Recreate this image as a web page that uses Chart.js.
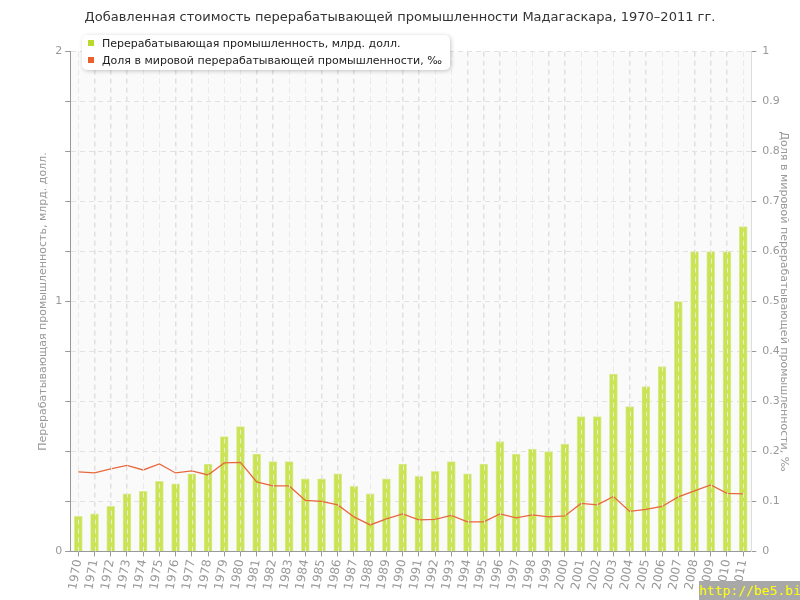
<!DOCTYPE html>
<html>
<head>
<meta charset="utf-8">
<script src="https://cdn.jsdelivr.net/npm/chart.js@4/dist/chart.umd.min.js"></script>
<style>
  body { margin: 0; background: #fff; }
  #wrap { position: relative; width: 800px; height: 600px; }
  #legend {
    position: absolute; left: 82px; top: 35px;
    background: #fff; border-radius: 5px;
    box-shadow: 1px 1px 4px rgba(0,0,0,0.22);
    padding: 0 8px 1px 6px;
    font: 11px "DejaVu Sans", sans-serif; color: #222;
  }
  #legend div { line-height: 17px; white-space: nowrap; }
  #legend span { display: inline-block; width: 6px; height: 6px; margin-right: 8px; vertical-align: 1px; }
  #wm {
    position: absolute; right: 0; bottom: 0; width: 101px; height: 19px;
    background: #a8a8a8; color: #ffff00;
    font: 13px "DejaVu Sans Mono", monospace; line-height: 19px; text-align: right;
  }
</style>
</head>
<body>
<div id="wrap">
  <canvas id="c" width="800" height="600"></canvas>
  <div id="legend">
    <div><span style="background:#b9d92b"></span>Перерабатывающая промышленность, млрд. долл.</div>
    <div><span style="background:#e8602c"></span>Доля в мировой перерабатывающей промышленности, ‰</div>
  </div>
  <div id="wm">http://be5.biz/</div>
</div>
<script>
const years = ['1970','1971','1972','1973','1974','1975','1976','1977','1978','1979',
  '1980','1981','1982','1983','1984','1985','1986','1987','1988','1989',
  '1990','1991','1992','1993','1994','1995','1996','1997','1998','1999',
  '2000','2001','2002','2003','2004','2005','2006','2007','2008','2009','2010','2011'];

// value added, billion USD
const valueAdded = [0.14, 0.15, 0.18, 0.23, 0.24, 0.28, 0.27, 0.31, 0.35, 0.46,
  0.50, 0.39, 0.36, 0.36, 0.29, 0.29, 0.31, 0.26, 0.23, 0.29,
  0.35, 0.30, 0.32, 0.36, 0.31, 0.35, 0.44, 0.39, 0.41, 0.40,
  0.43, 0.54, 0.54, 0.71, 0.58, 0.66, 0.74, 1.00, 1.20, 1.20, 1.20, 1.30];

// share of world manufacturing, per mille
const worldShare = [0.159, 0.157, 0.165, 0.172, 0.163, 0.175, 0.157, 0.161, 0.153, 0.177,
  0.178, 0.139, 0.131, 0.131, 0.102, 0.100, 0.093, 0.069, 0.053, 0.065,
  0.075, 0.063, 0.064, 0.072, 0.059, 0.059, 0.075, 0.067, 0.073, 0.069,
  0.071, 0.096, 0.093, 0.110, 0.080, 0.084, 0.090, 0.109, 0.121, 0.133, 0.116, 0.115];

const leftTicks = [0, 1, 2];
const rightTicks = ['0','0.1','0.2','0.3','0.4','0.5','0.6','0.7','0.8','0.9','1'];

const font = { family: 'DejaVu Sans', size: 11 };
const gray = '#999';

// light plot background
const plotBg = {
  id: 'plotBg',
  beforeDraw(chart) {
    const a = chart.chartArea, ctx = chart.ctx;
    ctx.save();
    ctx.fillStyle = '#fafafa';
    ctx.fillRect(a.left, a.top, a.right - a.left, a.bottom - a.top);
    ctx.restore();
  }
};

// dashed category lines drawn over the bars, as in the original
const overGrid = {
  id: 'overGrid',
  afterDatasetsDraw(chart) {
    const x = chart.scales.x, a = chart.chartArea, ctx = chart.ctx;
    ctx.save();
    ctx.strokeStyle = 'rgba(235,235,235,0.9)';
    ctx.lineWidth = 1;
    ctx.setLineDash([5, 4]);
    years.forEach((_, i) => {
      const px = Math.round(x.getPixelForTick(i)) + 0.5;
      ctx.beginPath();
      ctx.moveTo(px, a.top);
      ctx.lineTo(px, a.bottom);
      ctx.stroke();
    });
    ctx.restore();
  }
};

new Chart(document.getElementById('c'), {
  data: {
    labels: years,
    datasets: [
      {
        type: 'line',
        label: 'Доля в мировой перерабатывающей промышленности, ‰',
        data: worldShare,
        yAxisID: 'y2',
        borderColor: '#e8683e',
        borderWidth: 1.3,
        pointRadius: 0,
        tension: 0,
        order: 0
      },
      {
        type: 'bar',
        label: 'Перерабатывающая промышленность, млрд. долл.',
        data: valueAdded,
        yAxisID: 'y',
        backgroundColor: 'rgba(195,224,60,0.88)',
        borderColor: '#dcec98',
        borderWidth: 1,
        barThickness: 8,
        order: 1
      }
    ]
  },
  options: {
    responsive: false,
    animation: false,
    layout: { padding: { left: 0, right: 0, bottom: 7, top: 0 } },
    plugins: {
      legend: { display: false },
      tooltip: { enabled: false },
      title: {
        display: true,
        text: 'Добавленная стоимость перерабатывающей промышленности Мадагаскара, 1970–2011 гг.',
        color: '#333',
        font: { family: 'DejaVu Sans', size: 13, weight: 'normal' },
        padding: { top: 10, bottom: 26 }
      }
    },
    scales: {
      x: {
        offset: true,
        grid: { display: true, offset: false, color: '#e0e0e0', drawTicks: true, tickLength: 5, tickColor: '#999' },
        border: { color: '#999', width: 1, dash: [5, 4] },
        ticks: { color: gray, font: { family: 'DejaVu Sans', size: 12 }, minRotation: 80, maxRotation: 80, padding: 2, autoSkip: false }
      },
      y: {
        position: 'left',
        min: 0, max: 2,
        afterBuildTicks(axis) {
          const t = [];
          for (let i = 0; i <= 10; i++) t.push({ value: i * 0.2 });
          axis.ticks = t;
        },
        grid: { color: '#e2e2e2', tickColor: '#999', tickLength: 5 },
        border: { color: '#999', width: 1, dash: [5, 4] },
        ticks: {
          color: gray, font: font, padding: 3,
          callback: v => leftTicks.includes(Math.round(v * 1000) / 1000) ? String(Math.round(v)) : ''
        },
        title: { display: true, text: 'Перерабатывающая промышленность, млрд. долл.', color: gray, font: font, padding: { top: 37, bottom: 2 } }
      },
      y2: {
        position: 'right',
        min: 0, max: 1,
        afterBuildTicks(axis) {
          axis.ticks = rightTicks.map(s => ({ value: parseFloat(s) }));
        },
        grid: { drawOnChartArea: false, tickColor: '#999', tickLength: 5 },
        border: { color: '#ddd', width: 1 },
        ticks: {
          color: gray, font: font, padding: 6,
          callback: (v, i) => rightTicks[i]
        },
        title: { display: true, text: 'Доля в мировой перерабатывающей промышленности, ‰', color: gray, font: font, padding: { top: 10, bottom: -9 } }
      }
    }
  },
  plugins: [plotBg, overGrid]
});
</script>
</body>
</html>
